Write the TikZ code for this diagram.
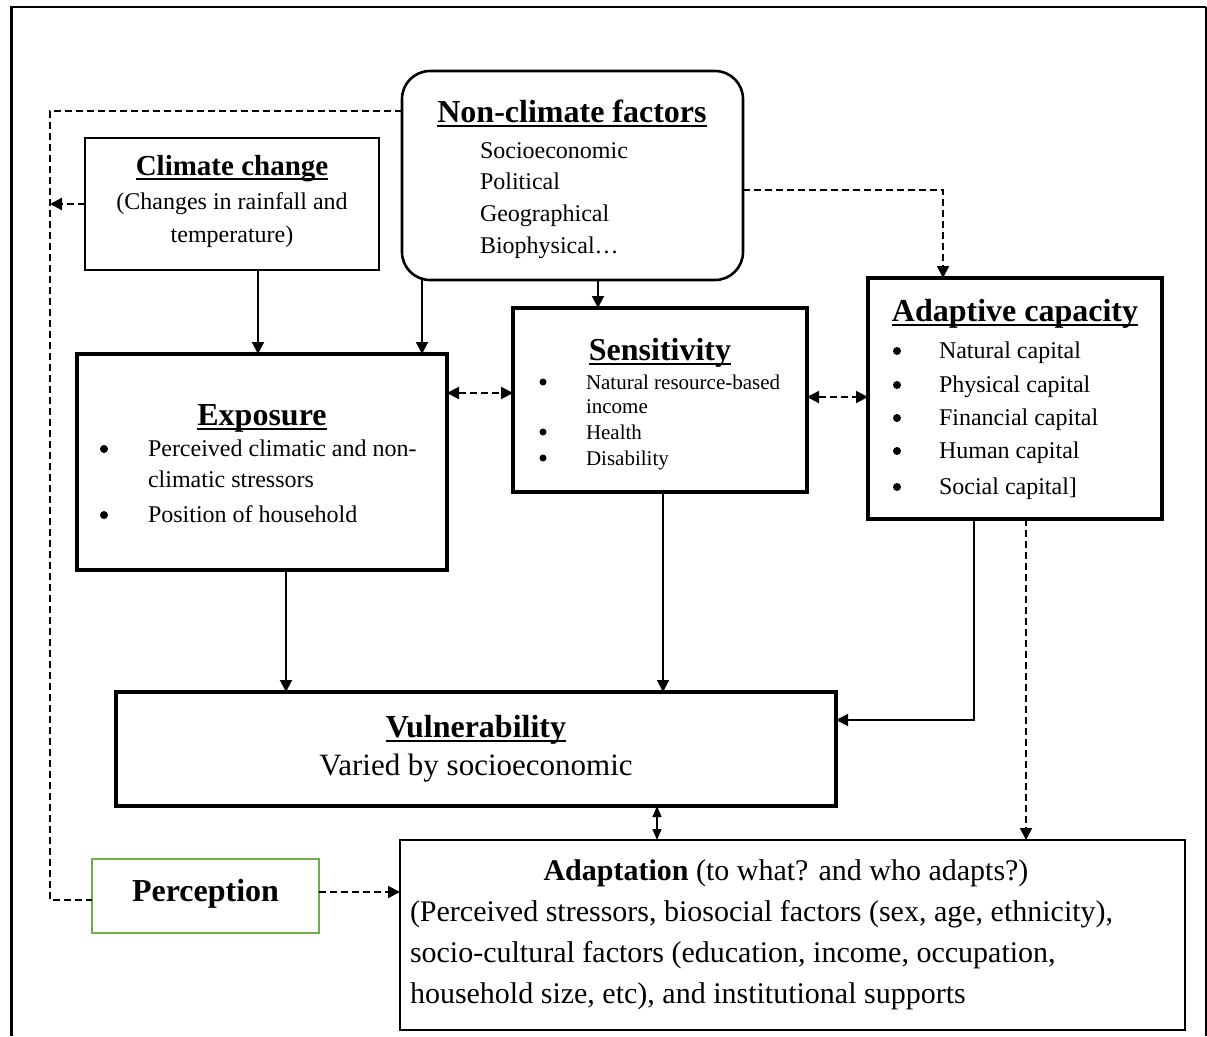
\documentclass[tikz,border=0pt]{standalone}
\usepackage{fontspec}
\setmainfont{Liberation Serif}
\usetikzlibrary{arrows.meta}
\definecolor{percgreen}{HTML}{70AD47}
\newcommand\fsz[2]{\fontsize{#1}{#2}\selectfont}
\newcommand\myul[1]{\setbox0\hbox{#1}\rlap{\rule[-5pt]{\wd0}{2.4pt}}\box0}
\begin{document}
\begin{tikzpicture}[x=1pt,y=-1pt,
  thickbox/.style={draw, line width=4pt, inner sep=0pt, outer sep=0pt},
  medbox/.style={draw, line width=2.6pt, inner sep=0pt, outer sep=0pt},
  thinbox/.style={draw, line width=2pt, inner sep=0pt, outer sep=0pt},
  lbl/.style={inner sep=0pt, outer sep=0pt, anchor=base west},
  ctr/.style={inner sep=0pt, outer sep=0pt, anchor=base},
  blt/.style={circle, fill, inner sep=0pt, outer sep=0pt, minimum size=#1},
  blt/.default=8pt,
  conn/.style={line width=1.9pt, -{Triangle[length=12pt,width=12pt]}},
  dline/.style={line width=2pt, dash pattern=on 7pt off 4pt},
  dconn/.style={conn, line width=2pt, dash pattern=on 7pt off 4pt},
  ddconn/.style={line width=2pt, dash pattern=on 7pt off 4pt, {Triangle[length=12pt,width=12pt]}-{Triangle[length=12pt,width=12pt]}},
  tconn/.style={line width=1.3pt, {Triangle[length=11pt,width=9pt]}-{Triangle[length=11pt,width=9pt]}}
]
\useasboundingbox (0,0) rectangle (1207,1036);
% outer frame
\draw[line width=3pt] (11,1036) -- (11,7);
\draw[line width=2pt] (10,7) -- (1206,7);
\draw[line width=1.2pt] (1206,7) -- (1206,1036);

% boxes
\node[medbox, minimum width=294, minimum height=132] (cc) at (232,204) {};
\node[medbox, rounded corners=28pt, minimum width=341, minimum height=209] (ncf) at (572.5,175.5) {};
\node[thickbox, minimum width=294, minimum height=241] (ac) at (1015,398.5) {};
\node[thickbox, minimum width=294, minimum height=184] (sens) at (660,400) {};
\node[thickbox, minimum width=370, minimum height=216] (exp) at (262,462) {};
\node[thickbox, minimum width=720, minimum height=114] (vul) at (476,749) {};
\node[thinbox, draw=percgreen, minimum width=227, minimum height=74] (perc) at (205.5,896) {};
\node[thinbox, minimum width=785, minimum height=190] (adapt) at (792.5,935) {};

% climate change
\node[ctr] (cct) at (232,175) {\fsz{29}{34}\bfseries\myul{Climate change}};
\node[ctr] (cc1) at (232,209) {\fsz{24}{30}(Changes in rainfall and};
\node[ctr] (cc2) at (232,242) {\fsz{24}{30}temperature)};

% non-climate factors
\node[ctr] (ncft) at (572,122) {\fsz{32}{38}\bfseries\myul{Non-climate factors}};
\node[lbl] (ncf1) at (480,158) {\fsz{24}{30}Socioeconomic};
\node[lbl] (ncf2) at (480,189) {\fsz{24}{30}Political};
\node[lbl] (ncf3) at (480,221) {\fsz{24}{30}Geographical};
\node[lbl] (ncf4) at (480,253) {\fsz{24}{30}Biophysical…};

% adaptive capacity
\node[ctr] (act) at (1015,321) {\fsz{32}{38}\bfseries\myul{Adaptive capacity}};
\node[blt] (acb1) at (897,351) {};
\node[blt] (acb2) at (897,385) {};
\node[blt] (acb3) at (897,418) {};
\node[blt] (acb4) at (897,451) {};
\node[blt] (acb5) at (897,487) {};
\node[lbl] (ac1) at (939,358) {\fsz{24}{30}Natural capital};
\node[lbl] (ac2) at (939,392) {\fsz{24}{30}Physical capital};
\node[lbl] (ac3) at (939,425) {\fsz{24}{30}Financial capital};
\node[lbl] (ac4) at (939,458) {\fsz{24}{30}Human capital};
\node[lbl] (ac5) at (939,494) {\fsz{24}{30}Social capital]};

% sensitivity
\node[ctr] (sest) at (660,360) {\fsz{32}{38}\bfseries\myul{Sensitivity}};
\node[blt=7pt] (seb1) at (543,382) {};
\node[blt=7pt] (seb2) at (543,432) {};
\node[blt=7pt] (seb3) at (543,458) {};
\node[lbl] (se1) at (586,389) {\fsz{21}{26}Natural resource-based};
\node[lbl] (se1b) at (586,413) {\fsz{21}{26}income};
\node[lbl] (se2) at (586,439) {\fsz{21}{26}Health};
\node[lbl] (se3) at (586,465) {\fsz{21}{26}Disability};

% exposure
\node[ctr] (expt) at (262,425) {\fsz{32}{38}\bfseries\myul{Exposure}};
\node[blt] (exb1) at (104,449) {};
\node[blt] (exb2) at (104,515) {};
\node[lbl] (ex1) at (148,456) {\fsz{24}{30}Perceived climatic and non-};
\node[lbl] (ex1b) at (148,487) {\fsz{24}{30}climatic stressors};
\node[lbl] (ex2) at (148,522) {\fsz{24}{30}Position of household};

% vulnerability
\node[ctr] (vult) at (476,737) {\fsz{32}{38}\bfseries\myul{Vulnerability}};
\node[ctr] (vul1) at (476,775) {\fsz{31}{36}Varied by socioeconomic};

% perception
\node[ctr] (perct) at (205.5,901) {\fsz{32}{38}\bfseries Perception};

% adaptation
\node[ctr] (adt) at (786,880) {\fsz{30}{40}\textbf{Adaptation} (to what? and who adapts?)};
\node[lbl] (ad1) at (410,921) {\fsz{30}{40}(Perceived stressors, biosocial factors (sex, age, ethnicity),};
\node[lbl] (ad2) at (410,962) {\fsz{30}{40}socio-cultural factors (education, income, occupation,};
\node[lbl] (ad3) at (410,1003) {\fsz{30}{40}household size, etc), and institutional supports};

% helper coordinates
\coordinate (tl) at (50,111);
\coordinate (bl) at (50,900);
\coordinate (tr) at (943,190);
\coordinate (c1) at (258,0);
\coordinate (c2) at (422,0);
\coordinate (c3) at (598,0);
\coordinate (c4) at (286,0);
\coordinate (c5) at (663,0);
\coordinate (c6) at (974,720);
\coordinate (c7) at (1026,0);
\coordinate (c8) at (657,0);
\coordinate (r1) at (0,393);
\coordinate (r2) at (0,397);
\coordinate (r3) at (0,892);

% connectors
\draw[dline] (ncf.west |- tl) -- (tl) -- (bl) -- (perc.west |- bl);
\draw[dconn] (cc.west) -- (cc.west -| tl);
\draw[dconn] (ncf.east |- tr) -- (tr) -- (tr |- ac.north);
\draw[conn] (c1 |- cc.south) -- (c1 |- exp.north);
\draw[conn] (c2 |- ncf.south) -- (c2 |- exp.north);
\draw[conn] (c3 |- ncf.south) -- (c3 |- sens.north);
\draw[ddconn] (exp.east |- r1) -- (sens.west |- r1);
\draw[ddconn] (sens.east |- r2) -- (ac.west |- r2);
\draw[conn] (c4 |- exp.south) -- (c4 |- vul.north);
\draw[conn] (c5 |- sens.south) -- (c5 |- vul.north);
\draw[conn] (c6 |- ac.south) -- (c6) -- (vul.east |- c6);
\draw[dconn] (c7 |- ac.south) -- (c7 |- adapt.north);
\draw[tconn] (c8 |- vul.south) -- (c8 |- adapt.north);
\draw[dconn] (perc.east |- r3) -- (adapt.west |- r3);
\end{tikzpicture}
\end{document}
